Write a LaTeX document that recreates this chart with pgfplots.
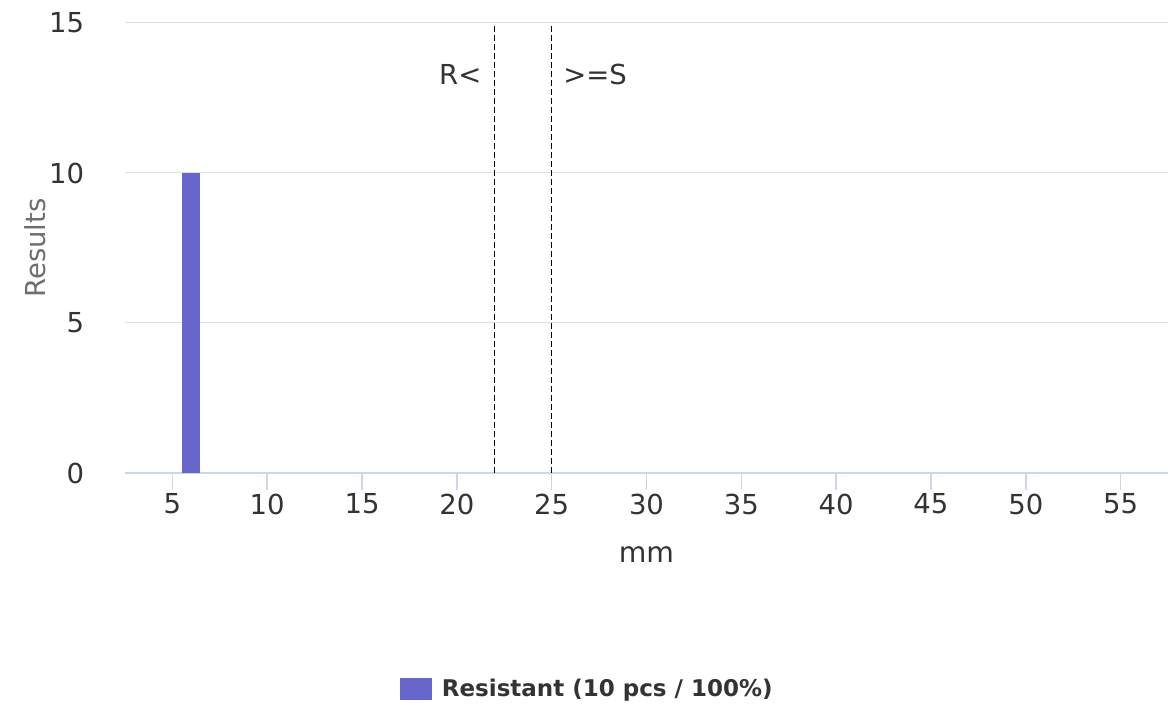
\documentclass[border=0pt]{standalone}
\usepackage{pgfplots}
\pgfplotsset{compat=1.18}
\usepackage{fontspec}
\setmainfont{DejaVu Sans}
\definecolor{barc}{RGB}{102,102,204}
\definecolor{gridc}{RGB}{224,224,224}
\definecolor{xline}{RGB}{204,214,235}
\definecolor{txt}{RGB}{51,51,51}
\definecolor{ylab}{RGB}{110,110,110}
\begin{document}
\begin{tikzpicture}
\path[use as bounding box] (-75pt,-141.6pt) rectangle (627pt,283.8pt);
\begin{axis}[
  scale only axis, width=625.8pt, height=270pt,
  xmin=2.5, xmax=57.5, ymin=0, ymax=15,
  xtick={5,10,...,55}, ytick={0,5,10,15},
  axis x line*=bottom, axis y line*=left,
  y axis line style={draw=none},
  x axis line style={draw=xline, line width=0.8pt, -},
  ytick style={draw=none},
  xtick style={draw=xline, line width=0.9pt},
  tick align=outside, major tick length=10pt,
  ymajorgrids, grid style={draw=gridc, line width=0.6pt},
  /pgf/number format/assume math mode=true,
  tick label style={font=\fontsize{16.5}{19}\selectfont, text=txt},
  yticklabel style={xshift=-11pt},
  xticklabel style={yshift=1pt},
  xlabel={mm}, ylabel={Results},
  xlabel style={at={(axis description cs:0.5,-0.182)}, anchor=center, font=\fontsize{17}{19}\selectfont, text=txt},
  ylabel style={at={(axis description cs:-0.0863,0.5)}, anchor=center, font=\fontsize{16.5}{19}\selectfont, text=ylab},
  clip=false,
  legend style={at={(axis description cs:0.444,-0.48)}, anchor=center, draw=none, fill=none,
    font=\bfseries\fontsize{13.8}{16}\selectfont, text=txt},
  legend cell align=left,
  legend image code/.code={\fill[barc] (0pt,-6.5pt) rectangle (19pt,6.5pt);},
]
\addplot[ybar, fill=barc, draw=none, bar width=0.95] coordinates {(6,10)};
\addlegendentry{\hspace{4pt}Resistant (10 pcs / 100\%)}
\addplot[forget plot, black, line width=0.75pt, dash pattern=on 3.6pt off 1.8pt] coordinates {(22,0) (22,15)};
\addplot[forget plot, black, line width=0.75pt, dash pattern=on 3.6pt off 1.8pt] coordinates {(25,0) (25,15)};
\node[anchor=east, font=\fontsize{16.5}{19}\selectfont, text=txt] at (axis cs:21.6,13.27) {R<};
\node[anchor=west, font=\fontsize{16.5}{19}\selectfont, text=txt] at (axis cs:25.3,13.27) {>=S};
\end{axis}
\end{tikzpicture}
\end{document}
